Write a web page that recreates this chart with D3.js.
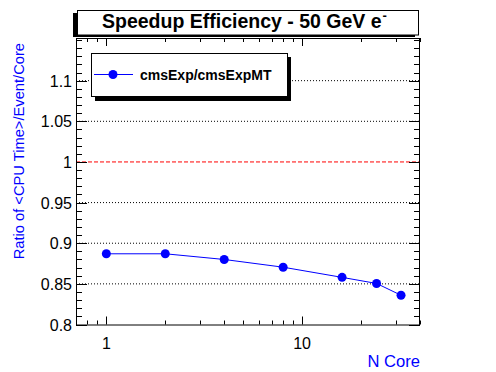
<!DOCTYPE html>
<html><head><meta charset="utf-8">
<script src="https://cdn.jsdelivr.net/npm/d3@7"></script>
<style>body{margin:0;background:#fff}svg{display:block}text{font-family:"Liberation Sans",Arial,sans-serif}</style>
</head><body>
<script>
const cores = [1, 2, 4, 8, 16, 24, 32];
const ratio = [0.887, 0.887, 0.880, 0.8705, 0.858, 0.8505, 0.836];
const yTicks = [0.8, 0.85, 0.9, 0.95, 1, 1.05, 1.1];
const yTickLabels = ["0.8", "0.85", "0.9", "0.95", "1", "1.05", "1.1"];
const xTicks = [1, 10];
const xTickLabels = ["1", "10"];
const gridValues = [0.85, 0.9, 0.95, 1.05, 1.1];
const refValue = 1;
const title = "Speedup Efficiency - 50 GeV e";
const titleSup = "-";
const seriesName = "cmsExp/cmsExpMT";
const xTitle = "N Core";
const yTitle = "Ratio of <CPU Time>/Event/Core";

const W = 496, H = 372;
const L = 76, R = 420, T = 38, B = 324.5;
const svg = d3.select("body").append("svg").attr("width", W).attr("height", H);
svg.append("rect").attr("width", W).attr("height", H).attr("fill", "#fff");

const x = d3.scaleLog().domain([0.7, 40]).range([L, R]);
const y = d3.scaleLinear().domain([0.8, 1.1525]).range([B, T]);

// grid
svg.append("g").selectAll("line").data(gridValues).join("line")
  .attr("x1", L).attr("x2", R).attr("y1", d => y(d)).attr("y2", d => y(d))
  .attr("stroke", "#000").attr("stroke-width", 1).attr("stroke-dasharray", "1,2");
svg.append("line").attr("x1", L).attr("x2", R).attr("y1", y(refValue)).attr("y2", y(refValue))
  .attr("stroke", "#f00").attr("stroke-width", 1).attr("stroke-dasharray", "4,2");

// y ticks (left & right)
const yMinor = d3.range(0.8, 1.1525, 0.01).map(v => +v.toFixed(2));
const tg = svg.append("g").attr("stroke", "#000").attr("stroke-width", 1);
yMinor.forEach(v => {
  const major = yTicks.some(t => Math.abs(t - v) < 1e-6);
  const len = major ? 11 : 6;
  const yy = Math.round(y(v)) + 0.5;
  tg.append("line").attr("x1", L).attr("x2", L + len).attr("y1", yy).attr("y2", yy);
  tg.append("line").attr("x1", R - len).attr("x2", R).attr("y1", yy).attr("y2", yy);
});
// x ticks (bottom & top)
const xMinor = [];
[0.1, 1, 10].forEach(dec => { for (let k = 1; k <= 9; k++) { const v = dec * k; if (v >= 0.7 && v <= 40) xMinor.push(v); } });
xMinor.forEach(v => {
  const major = xTicks.includes(+v.toFixed(6));
  const len = major ? 8 : 4;
  const xx = Math.round(x(v)) + 0.5;
  tg.append("line").attr("x1", xx).attr("x2", xx).attr("y1", B).attr("y2", B - len);
  tg.append("line").attr("x1", xx).attr("x2", xx).attr("y1", T).attr("y2", T + len);
});

// frame
svg.append("rect").attr("x", L + 0.5).attr("y", T + 0.5).attr("width", R - L - 1).attr("height", B - T)
  .attr("fill", "none").attr("stroke", "#000").attr("stroke-width", 1);

// tick labels
svg.append("g").selectAll("text").data(yTicks).join("text")
  .attr("x", 72).attr("y", d => y(d) + 6).attr("text-anchor", "end")
  .attr("font-size", 16).text((d, i) => yTickLabels[i]);
svg.append("g").selectAll("text").data(xTicks).join("text")
  .attr("x", d => x(d)).attr("y", 349).attr("text-anchor", "middle")
  .attr("font-size", 16).text((d, i) => xTickLabels[i]);

// axis titles
svg.append("text").attr("x", R).attr("y", 367).attr("text-anchor", "end")
  .attr("font-size", 16.6).attr("fill", "#00f").text(xTitle);
svg.append("text").attr("transform", `translate(24,${T + 5}) rotate(-90)`).attr("text-anchor", "end")
  .attr("font-size", 14.7).attr("fill", "#00f").text(yTitle);

// series
const pts = cores.map((c, i) => [c, ratio[i]]);
svg.append("path").datum(pts)
  .attr("d", d3.line().x(d => x(d[0])).y(d => y(d[1])))
  .attr("fill", "none").attr("stroke", "#00f").attr("stroke-width", 1);
svg.append("g").selectAll("circle").data(pts).join("circle")
  .attr("cx", d => x(d[0])).attr("cy", d => y(d[1])).attr("r", 4.5).attr("fill", "#00f");

// legend
svg.append("rect").attr("x", 95).attr("y", 57).attr("width", 196).attr("height", 44).attr("fill", "#000");
svg.append("rect").attr("x", 91.5).attr("y", 53.5).attr("width", 196).attr("height", 43)
  .attr("fill", "#fff").attr("stroke", "#000").attr("stroke-width", 1);
svg.append("line").attr("x1", 94).attr("x2", 133).attr("y1", 74.5).attr("y2", 74.5).attr("stroke", "#00f");
svg.append("circle").attr("cx", 113).attr("cy", 74.5).attr("r", 4.5).attr("fill", "#00f");
svg.append("text").attr("x", 140).attr("y", 79.5).attr("font-size", 14).attr("font-weight", "bold").text(seriesName);

// title box
svg.append("rect").attr("x", 73).attr("y", 13).attr("width", 342).attr("height", 24).attr("fill", "#000");
svg.append("rect").attr("x", 77.5).attr("y", 10.5).attr("width", 341).attr("height", 24.5)
  .attr("fill", "#fff").attr("stroke", "#000").attr("stroke-width", 1);
const tt = svg.append("text").attr("x", 102).attr("y", 28).attr("font-size", 19.5).attr("font-weight", "bold").text(title);
tt.append("tspan").attr("dy", -8).attr("dx", 1).attr("font-size", 13).text(titleSup);
</script>
</body></html>
